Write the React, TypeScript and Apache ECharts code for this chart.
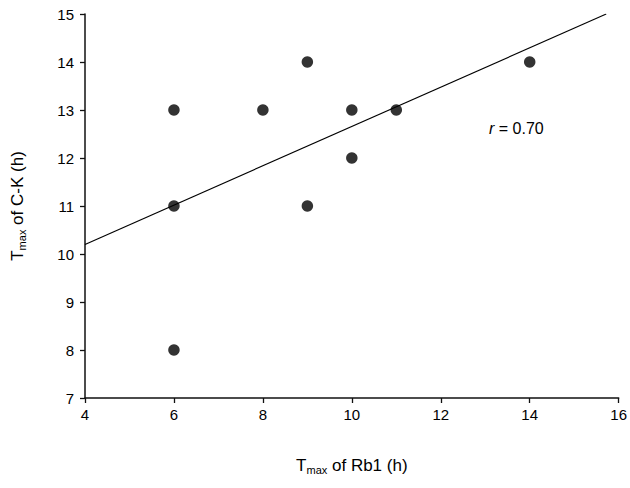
import React, { useEffect, useRef } from "react";
import * as echarts from "echarts";

const pointsX = [6, 6, 6, 8, 9, 9, 10, 10, 11, 14];
const pointsY = [13, 11, 8, 13, 14, 11, 13, 12, 13, 14];
const fitX = [4, 15.72];
const fitY = [10.2, 15];
const xTicks = [4, 6, 8, 10, 12, 14, 16];
const yTicks = [7, 8, 9, 10, 11, 12, 13, 14, 15];
const rLabel = "0.70";

const FONT = "'Liberation Sans', Arial, sans-serif";
const INK = "#000";

export default function App() {
  const ref = useRef<HTMLDivElement>(null);
  useEffect(() => {
    const chart = echarts.init(ref.current!, null, { renderer: "svg" });
    chart.setOption({
      animation: false,
      backgroundColor: "#fff",
      textStyle: { fontFamily: FONT, color: INK },
      grid: { left: 85, right: 11, top: 14, bottom: 90, containLabel: false },
      xAxis: {
        type: "value",
        min: xTicks[0],
        max: xTicks[xTicks.length - 1],
        interval: 2,
        axisLine: { show: true, lineStyle: { color: "#111", width: 1.5 } },
        axisTick: { show: true, length: 5, lineStyle: { color: "#111", width: 1.3 } },
        axisLabel: { color: INK, fontSize: 15, fontFamily: FONT, margin: 9 },
        splitLine: { show: false },
        name: "{a|T}{s|max}{a| of Rb1 (h)}",
        nameLocation: "middle",
        nameGap: 58,
        nameTextStyle: {
          rich: {
            a: { fontSize: 17, fontFamily: FONT, color: INK },
            s: { fontSize: 11, fontFamily: FONT, color: INK, verticalAlign: "bottom", padding: [8, 0, 0, 0] },
          },
        },
      },
      yAxis: {
        type: "value",
        min: yTicks[0],
        max: yTicks[yTicks.length - 1],
        interval: 1,
        axisLine: { show: true, lineStyle: { color: "#111", width: 1.5 } },
        axisTick: { show: true, length: 5, lineStyle: { color: "#111", width: 1.3 } },
        axisLabel: { color: INK, fontSize: 15, fontFamily: FONT, margin: 11 },
        splitLine: { show: false },
        name: "{a|T}{s|max}{a| of C-K (h)}",
        nameLocation: "middle",
        nameGap: 58,
        nameRotate: 90,
        nameTextStyle: {
          rich: {
            a: { fontSize: 17, fontFamily: FONT, color: INK },
            s: { fontSize: 11, fontFamily: FONT, color: INK, verticalAlign: "bottom", padding: [8, 0, 0, 0] },
          },
        },
      },
      series: [
        {
          type: "line",
          data: fitX.map((x, i) => [x, fitY[i]]),
          showSymbol: false,
          symbol: "none",
          lineStyle: { color: "#000", width: 1.1 },
          silent: true,
          z: 1,
        },
        {
          type: "scatter",
          data: pointsX.map((x, i) => [x, pointsY[i]]),
          symbol: "circle",
          symbolSize: 11.5,
          itemStyle: { color: "#000" },
          z: 2,
        },
      ],
      graphic: [
        {
          type: "text",
          left: 489,
          top: 120,
          style: {
            text: "{i|r}{n| = " + rLabel + "}",
            rich: {
              i: { fontSize: 16, fontStyle: "italic", fontFamily: FONT, fill: INK, color: INK },
              n: { fontSize: 16, fontFamily: FONT, fill: INK, color: INK },
            },
          },
        },
      ],
    });
    return () => chart.dispose();
  }, []);
  return <div ref={ref} style={{ width: 630, height: 488, position: "absolute", left: 0, top: 0 }} />;
}
